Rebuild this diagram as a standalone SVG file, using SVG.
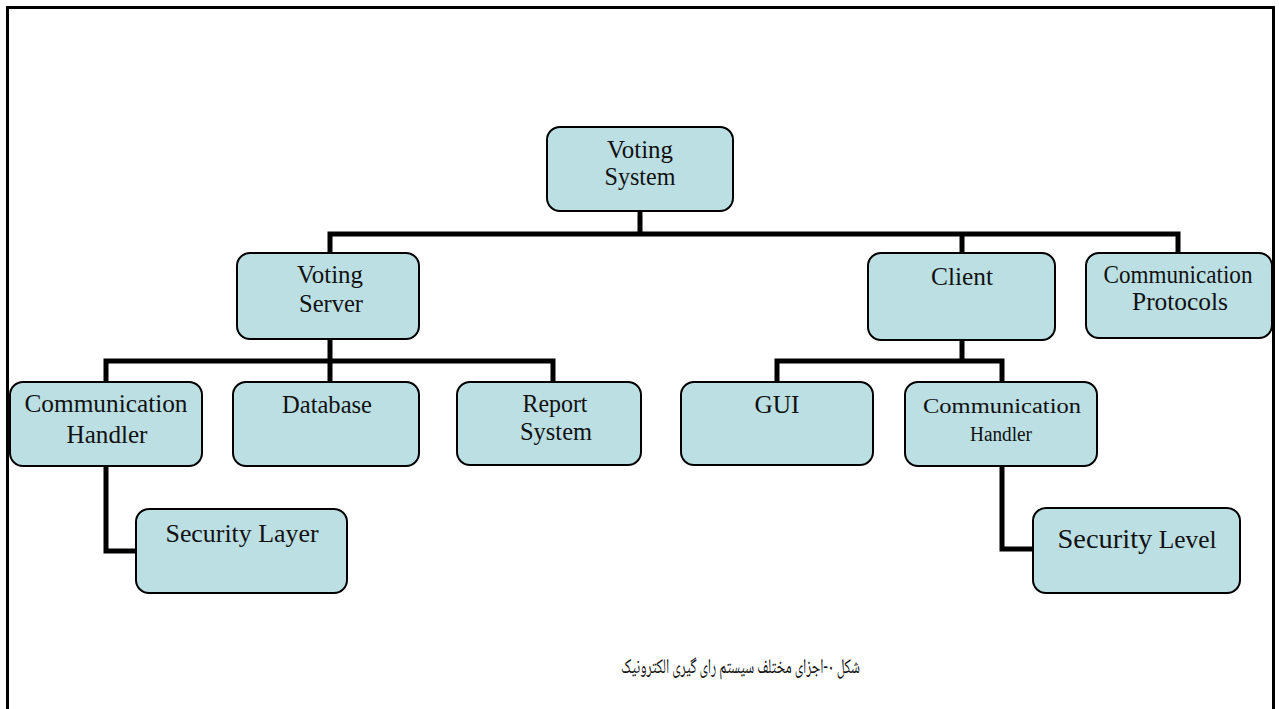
<svg xmlns="http://www.w3.org/2000/svg" width="1279" height="709" viewBox="0 0 1279 709">
<style>
.box{fill:#BBDFE3;stroke:#000;stroke-width:2}
.t{font-family:"Liberation Serif","Times New Roman",serif;font-size:25px;fill:#111;text-anchor:middle}
.s{font-size:20px}
.con{fill:none;stroke:#000;stroke-width:5;stroke-linejoin:miter;stroke-linecap:square}
</style>
<rect x="0" y="0" width="1279" height="709" fill="#fff"/>
<rect x="7.5" y="7.5" width="1266" height="720" fill="none" stroke="#000" stroke-width="3"/>
<g id="connectors">
<path class="con" d="M640 211V234M330 253V234H1178V253M962 234V253"/>
<path class="con" d="M330 339V382M106 382V361H553V382"/>
<path class="con" d="M962 340V361M777 382V361H1002V382"/>
<path class="con" d="M106 466V551H136"/>
<path class="con" d="M1002 466V549H1033"/>
</g>
<g id="voting-system"><rect class="box" x="547" y="127" width="186" height="84" rx="13"/><text class="t" x="640" y="158" textLength="66" lengthAdjust="spacingAndGlyphs">Voting</text><text class="t" x="640" y="185" textLength="71" lengthAdjust="spacingAndGlyphs">System</text></g>
<g id="voting-server"><rect class="box" x="237" y="253" width="182" height="86" rx="13"/><text class="t" x="330" y="283" textLength="66" lengthAdjust="spacingAndGlyphs">Voting</text><text class="t" x="331" y="312" textLength="64" lengthAdjust="spacingAndGlyphs">Server</text></g>
<g id="client"><rect class="box" x="868" y="253" width="187" height="87" rx="13"/><text class="t" x="962" y="285" textLength="62" lengthAdjust="spacingAndGlyphs">Client</text></g>
<g id="communication-protocols"><rect class="box" x="1086" y="253" width="186" height="85" rx="13"/><text class="t" x="1178" y="283" textLength="149" lengthAdjust="spacingAndGlyphs">Communication</text><text class="t" x="1180" y="310" textLength="96" lengthAdjust="spacingAndGlyphs">Protocols</text></g>
<g id="communication-handler-1"><rect class="box" x="10" y="382" width="192" height="84" rx="13"/><text class="t" x="106" y="412" textLength="163" lengthAdjust="spacingAndGlyphs">Communication</text><text class="t" x="107" y="443" textLength="81" lengthAdjust="spacingAndGlyphs">Handler</text></g>
<g id="database"><rect class="box" x="233" y="382" width="186" height="84" rx="13"/><text class="t" x="327" y="413" textLength="90" lengthAdjust="spacingAndGlyphs">Database</text></g>
<g id="report-system"><rect class="box" x="457" y="382" width="184" height="83" rx="13"/><text class="t" x="555" y="412" textLength="65" lengthAdjust="spacingAndGlyphs">Report</text><text class="t" x="556" y="440" textLength="72" lengthAdjust="spacingAndGlyphs">System</text></g>
<g id="gui"><rect class="box" x="681" y="382" width="192" height="83" rx="13"/><text class="t" x="777" y="413" textLength="45" lengthAdjust="spacingAndGlyphs">GUI</text></g>
<g id="communication-handler-2"><rect class="box" x="905" y="382" width="192" height="84" rx="13"/><text class="t s" x="1002" y="413" textLength="158" lengthAdjust="spacingAndGlyphs">Communication</text><text class="t s" x="1001" y="441" textLength="62" lengthAdjust="spacingAndGlyphs">Handler</text></g>
<g id="security-layer"><rect class="box" x="136" y="509" width="211" height="84" rx="13"/><text class="t" x="242" y="542" textLength="153" lengthAdjust="spacingAndGlyphs">Security Layer</text></g>
<g id="security-level"><rect class="box" x="1033" y="508" width="207" height="85" rx="13"/><text class="t" x="1137" y="548" textLength="159" lengthAdjust="spacingAndGlyphs"><tspan font-size="28">Security</tspan> Level</text></g>
<g id="caption"><text x="860" y="673" direction="rtl" unicode-bidi="embed" text-anchor="start" font-family="'Noto Naskh Arabic','Noto Sans Arabic','DejaVu Sans',sans-serif" font-size="21" fill="#111" textLength="239" lengthAdjust="spacingAndGlyphs">شکل ۰-اجزای مختلف سیستم رای گیری الکترونیک</text></g>
</svg>
